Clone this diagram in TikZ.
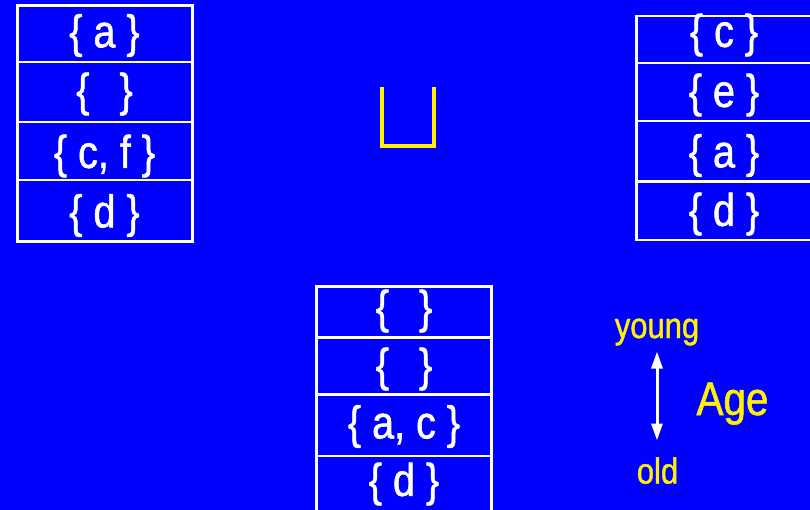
\documentclass[tikz,border=0pt]{standalone}
\usepackage{fontspec}
\usetikzlibrary{arrows.meta}
\setmainfont{Liberation Sans}
\newfontfamily\narrowfont[FakeStretch=0.86,FakeBold=1.2]{Liberation Sans}
\begin{document}
\begin{tikzpicture}[x=1pt,y=-1pt,
  setbox/.style={draw=white},
  sepline/.style={draw=white,line width=2.3pt},
  settext/.style={text=white,inner sep=0pt,yshift=-3pt,font=\narrowfont\fontsize{46}{50}\selectfont},
  agetext/.style={text=yellow,inner sep=0pt,anchor=base,font=\narrowfont\fontsize{36}{40}\selectfont}]
\useasboundingbox (0,0) rectangle (810,510);
\fill[blue] (0,0) rectangle (810,510);
% left stack
\draw[setbox,line width=3pt] (17.5,5.5) rectangle (192,241.5);
\foreach \yy in {62,122,180} \draw[sepline] (17.5,\yy) -- (192,\yy);
\node[settext] (l1) at (104.5,32.5) {\{ a \}};
\node[settext] (l2) at (104.5,91) {\{\hspace{30pt}\}};
\node[settext] (l3) at (104.5,153) {\{ c, f \}};
\node[settext] (l4) at (104.5,212.5) {\{ d \}};
% right stack
\draw[setbox,line width=2.2pt] (636.5,16) rectangle (813,240);
\foreach \yy in {63,121,181.5} \draw[sepline] (636.5,\yy) -- (813,\yy);
\node[settext] (r1) at (724,32) {\{ c \}};
\node[settext] (r2) at (724,92) {\{ e \}};
\node[settext] (r3) at (724,152.5) {\{ a \}};
\node[settext] (r4) at (724,211) {\{ d \}};
% bottom stack
\draw[setbox,line width=2.5pt] (316.5,286.5) rectangle (491.5,513);
\foreach \yy in {337.5,394.5,455.7} \draw[sepline] (316.5,\yy) -- (491.5,\yy);
\node[settext] (b1) at (404,308) {\{\hspace{30pt}\}};
\node[settext] (b2) at (404,366) {\{\hspace{30pt}\}};
\node[settext] (b3) at (404,423.5) {\{ a, c \}};
\node[settext] (b4) at (404,481) {\{ d \}};
% union symbol
\draw[yellow,line width=3.8pt] (382,87) -- (382,146) -- (434,146) -- (434,87);
% age legend
\node[agetext] (young) at (657,338) {young};
\node[agetext] (old) at (657.5,483.5) {old};
\node[agetext,font=\narrowfont\fontsize{47}{50}\selectfont] (age) at (732.5,415) {Age};
\coordinate (atop) at (657,351.5);
\coordinate (abot) at (657,440.5);
\draw[white,line width=3pt,{Triangle[width=11pt,length=17pt]}-{Triangle[width=11pt,length=17pt]}] (atop) -- (abot);
\end{tikzpicture}
\end{document}
